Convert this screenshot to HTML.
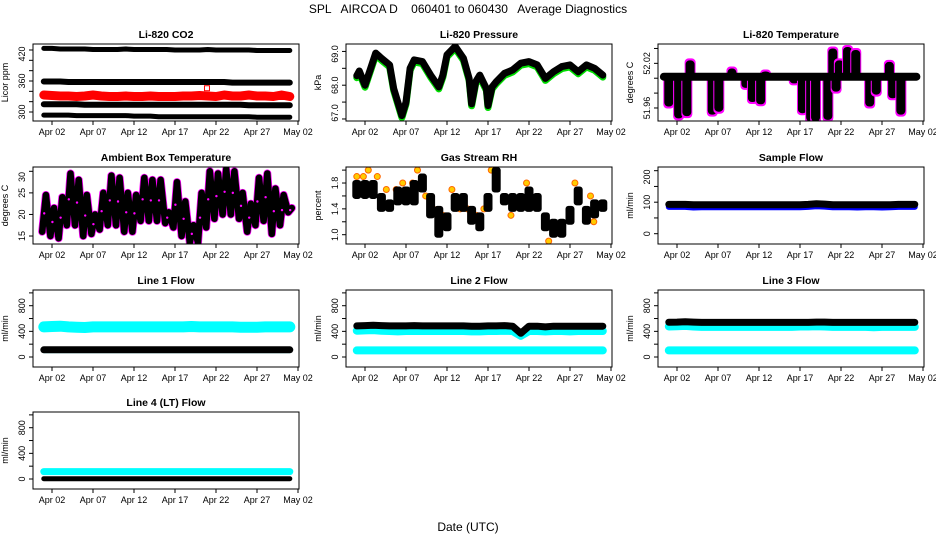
<!DOCTYPE html>
<html><head><meta charset="utf-8"><style>
html,body{margin:0;padding:0;background:#fff;}
svg{display:block;font-family:"Liberation Sans",sans-serif;}
text{white-space:pre;}
</style></head><body>
<svg id="c" width="936" height="540" viewBox="0 0 936 540" xmlns="http://www.w3.org/2000/svg" xml:space="preserve">
<text x="468" y="13" font-size="12" text-anchor="middle">SPL   AIRCOA D    060401 to 060430   Average Diagnostics</text>
<text x="468" y="531" font-size="12" text-anchor="middle">Date (UTC)</text>
</svg>
<script>
// ---- data ----
const days = [1,2,3,4,5,6,7,8,9,10,11,12,13,14,15,16,17,18,19,20,21,22,23,24,25,26,27,28,29,30,31];
const dateTicks = [2,7,12,17,22,27,32];
const dateLabels = ["Apr 02","Apr 07","Apr 12","Apr 17","Apr 22","Apr 27","May 02"];

const co2Top   = [423,423,422,422,422,422,421,421,421,421,422,421,421,421,421,421,420,420,420,420,421,420,420,420,420,420,419,419,419,419,419];
const co2Mid   = [359,359,359,358,358,358,358,358,358,358,358,358,358,358,358,358,358,358,358,358,358,358,358,357,357,357,357,357,357,357,357];
const co2Red   = [333,332,331,331,330,331,333,331,330,330,331,330,330,331,330,330,330,331,331,332,331,330,333,331,331,333,331,331,330,333,330];
const co2Low   = [315,315,315,315,315,314,314,314,314,314,314,314,314,314,314,314,314,314,314,314,314,314,314,314,314,313,313,313,313,313,313];
const co2Bot   = [294,294,294,294,293,293,293,293,293,293,293,292,292,292,291,291,291,291,291,291,291,291,291,291,291,291,290,290,290,290,290];
const co2OutDay = [20.9]; const co2OutVal = [346];

const presDays = [1,1.3,2,2.7,3.3,4,5,5.5,6,6.5,7,7.5,8,9,10,11,11.5,12,13,14,14.7,15,15.5,16,16.8,17,17.5,18,19,20,21,22,23,24,25,26,27,28,29,30,31];
const presVals = [68.28,68.42,68.0,68.5,68.95,68.8,68.6,67.9,67.5,67.1,67.5,68.5,68.75,68.7,68.3,67.95,68.3,68.9,69.15,68.8,68.2,67.45,68.1,68.3,67.9,67.4,67.95,68.1,68.35,68.45,68.65,68.7,68.6,68.2,68.4,68.55,68.6,68.4,68.6,68.5,68.3];

const tempBase = 52.002;
const tempDipDays = [1.0,2.2,3.2,3.6,6.3,7.1,8.7,10.4,11.2,12.2,12.8,16.3,17.3,18.3,18.9,20.4,21.0,21.4,21.8,22.8,23.8,25.5,26.3,27.9,28.3,29.3];
const tempDipVals = [51.962,51.946,51.949,52.024,51.951,51.955,52.013,51.987,51.968,51.965,52.009,51.993,51.953,51.942,51.942,51.944,52.040,51.982,52.024,52.042,52.038,51.962,51.978,52.022,51.973,51.951];

const ambMax = [24.5,21.5,24,29.5,28,24.5,20,25,29,28.5,25,24.5,28.5,28,28,20.5,27.5,23,17.5,25,30,29.5,30.5,30,25,22.5,28.5,29.5,26,24.5,21.5];
const ambMin = [16,15,14.5,17.5,17.5,15,15.5,16.5,17.5,17.5,16,16,18.5,18.5,18.5,18,17,15,13.5,13.5,17,19,20,20,19,16,17.5,18.5,15.5,17.5,20.5];

const rhLow  = [1.6,1.6,1.6,1.4,1.4,1.5,1.5,1.5,1.7,1.3,1.0,1.1,1.4,1.4,1.2,1.1,1.4,1.7,1.5,1.4,1.4,1.4,1.4,1.1,1.0,1.0,1.2,1.5,1.2,1.3,1.4];
const rhHigh = [1.8,1.8,1.8,1.6,1.5,1.7,1.7,1.8,1.9,1.6,1.4,1.3,1.6,1.6,1.4,1.3,1.6,2.0,1.6,1.6,1.6,1.7,1.6,1.3,1.2,1.2,1.4,1.7,1.4,1.5,1.5];
const rhOutDays = [1,1.8,2.4,3.5,4.6,5.8,6.6,7.8,8.4,9.4,10.3,11.5,12.6,13.6,14.5,15.6,16.5,17.4,19.8,21.7,24.4,27.6,29.5,29.9];
const rhOutVals = [1.9,1.9,2.0,1.9,1.7,1.7,1.8,1.8,2.0,1.6,1.4,1.3,1.7,1.4,1.4,1.3,1.4,2.0,1.3,1.8,0.9,1.8,1.6,1.2];

const sampleBlack = [93,93,93,92,92,92,92,92,92,92,92,92,92,92,92,92,92,93,95,94,92,92,92,92,92,92,92,92,93,93,93];
const sampleBlue  = [85,85,85,83,84,84,84,84,84,84,84,84,84,84,84,84,84,85,87,86,84,84,84,83,84,84,83,84,85,85,85];

const l1Cyan  = [470,475,480,470,465,460,470,470,470,470,470,470,470,470,470,470,470,470,475,470,470,470,470,470,465,465,465,470,470,470,470];
const l1Black = [113,113,113,113,113,113,113,113,113,113,113,113,113,113,113,113,113,113,113,113,113,113,113,113,113,113,113,113,113,113,113];
const l1CyanLow = [92,92,92,92,92,92,92,92,92,92,92,92,92,92,92,92,92,92,92,92,92,92,92,92,92,92,92,92,92,92,92];

const l2Black = [485,490,495,490,485,485,485,490,485,485,485,485,485,485,480,480,485,485,490,480,370,480,480,470,480,480,480,480,480,480,480];
const l2Cyan  = [410,415,420,410,405,400,405,405,405,405,405,405,405,405,400,400,405,405,410,405,330,405,405,400,405,405,400,405,405,405,405];
const l2CyanLow = [103,103,103,103,103,103,103,103,103,103,103,103,103,103,103,103,103,103,103,103,103,103,103,103,103,103,103,103,103,103,103];

const l3Black = [542,545,550,545,540,540,540,540,540,540,540,540,540,540,540,540,540,540,545,545,540,540,540,540,540,540,540,540,540,540,540];
const l3Cyan  = [475,480,485,475,470,470,470,470,470,470,470,470,470,470,470,470,475,475,480,475,470,470,470,470,470,465,470,470,470,470,470];
const l3CyanLow = [103,103,103,103,103,103,103,103,103,103,103,103,103,103,103,103,103,103,103,103,103,103,103,103,103,103,103,103,103,103,103];

const l4Cyan  = [115,115,115,115,115,115,115,115,115,115,115,115,115,115,115,115,115,115,115,115,115,115,115,115,115,115,115,115,115,115,115];
const l4Black = [5,5,5,5,5,5,5,5,5,5,5,5,5,5,5,5,5,5,5,5,5,5,5,5,5,5,5,5,5,5,5];

// ---- layout ----
const NS = "http://www.w3.org/2000/svg";
const svg = document.getElementById('c');
const W = 266, H = 77;
const cols = [33, 346, 658], rows = [44, 167, 290, 412];
function mk(tag, attrs, parent){ const e=document.createElementNS(NS,tag); for(const k in attrs) e.setAttribute(k,attrs[k]); (parent||svg).appendChild(e); return e; }

function panel(name, title, ytitle, c, r, ymin, ymax, ticks, labels, fmt){
  const p = {left:cols[c], top:rows[r], ymin, ymax};
  p.x = d => p.left + 19 + (d-2)*8.2;
  p.y = v => p.top + H - (v-ymin)/(ymax-ymin)*H;
  const g = mk('g', {});
  
  
  const cid = 'clip-'+name;
  const cp = mk('clipPath', {id:cid}, g);
  mk('rect', {x:p.left, y:p.top, width:W, height:H}, cp);
  p.plot = mk('g', {'clip-path':'url(#'+cid+')'}, g);
  
  
  const t = mk('text', {x:p.left+W/2, y:p.top-6, 'font-size':10.5, 'font-weight':'bold', 'text-anchor':'middle'}, g);
  t.textContent = title;
  
  
  const xa = mk('g', {}, g);
  
  
  mk('line', {x1:p.left, x2:p.x(32), y1:p.top+H, y2:p.top+H, stroke:'#000'}, xa);
  dateTicks.forEach((d,i)=>{
    mk('line', {x1:p.x(d), x2:p.x(d), y1:p.top+H, y2:p.top+H+4, stroke:'#000'}, xa);
    const tl = mk('text', {x:p.x(d), y:p.top+H+14, 'font-size':9, 'text-anchor':'middle'}, xa);
    tl.textContent = dateLabels[i];
    
    
  });
  const ya = mk('g', {}, g);
  
  
  mk('line', {x1:p.left, x2:p.left, y1:p.y(ticks[0]), y2:p.y(ticks[ticks.length-1]), stroke:'#000'}, ya);
  ticks.forEach(v=>{
    mk('line', {x1:p.left-4, x2:p.left, y1:p.y(v), y2:p.y(v), stroke:'#000'}, ya);
  });
  labels.forEach(v=>{
    const yy = Math.min(Math.max(p.y(v), p.top+10), p.top+H-8);
    const tl = mk('text', {x:p.left-8, y:yy, 'font-size':9, 'text-anchor':'middle', transform:'rotate(-90 '+(p.left-8)+' '+yy+')'}, ya);
    tl.textContent = fmt(v);
    
    
  });
  const yt = mk('text', {x:p.left-25, y:p.top+H/2, 'font-size':9, 'text-anchor':'middle', transform:'rotate(-90 '+(p.left-25)+' '+(p.top+H/2)+')'}, g);
  yt.textContent = ytitle;
  
  
  p.frame = g;
  return p;
}
function box(p){
  const b = mk('rect', {x:p.left, y:p.top, width:W, height:H, fill:'none', stroke:'#000', 'stroke-width':1}, p.frame);
  
  
}
function band(p, xs, vals, color, w, name, dy){
  const pts = xs.map((d,i)=>p.x(d).toFixed(1)+','+(p.y(vals[i])+(dy||0)).toFixed(1)).join(' ');
  const l = mk('polyline', {points:pts, fill:'none', stroke:color, 'stroke-width':w, 'stroke-linejoin':'round', 'stroke-linecap':'round'}, p.plot);
  
  
  return l;
}
const f0 = v=>String(v), f1 = v=>v.toFixed(1), f2 = v=>v.toFixed(2);

let p = panel('co2','Li-820 CO2','Licor ppm',0,0,282.6,431.6,[300,320,340,360,380,400,420],[300,360,420],f0);
band(p, days, co2Top, '#000', 5, 'co2-band-high');
band(p, days, co2Mid, '#000', 6, 'co2-band-mid');
band(p, days, co2Low, '#000', 6, 'co2-band-low');
band(p, days, co2Bot, '#000', 5, 'co2-band-bottom');
band(p, days, co2Red, '#ff0000', 9, 'co2-band-red');
co2OutDay.forEach((d,i)=>{
  const r = mk('rect', {x:p.x(d)-2.5, y:p.y(co2OutVal[i])-2.5, width:5, height:5, fill:'none', stroke:'#ff0000'}, p.plot);
  
  
});
box(p);

p = panel('pressure','Li-820 Pressure','kPa',1,0,66.94,69.22,[67,67.5,68,68.5,69],[67,68,69],f1);
band(p, presDays, presVals, '#00dd00', 7, 'pressure-green-series', 2);
band(p, presDays, presVals, '#000', 7, 'pressure-series');
box(p);

p = panel('temperature','Li-820 Temperature','degrees C',2,0,51.9425,52.046,[51.96,51.98,52.00,52.02,52.04],[51.96,52.02],f2);
tempDipDays.forEach((d,i)=>{
  const v = tempDipVals[i];
  const y1 = Math.min(p.y(v), p.y(tempBase)), y2 = Math.max(p.y(v), p.y(tempBase));
  const m = mk('rect', {x:p.x(d)-5.5, y:y1-2, width:11, height:y2-y1+4, rx:4, fill:'#ff00ff'}, p.plot);
  
  
  const b = mk('rect', {x:p.x(d)-4.5, y:y1, width:9, height:y2-y1, rx:4, fill:'#000'}, p.plot);
  
  
});
band(p, [0.4,31.2], [tempBase,tempBase], '#000', 8, 'temperature-baseline');
box(p);

p = panel('ambient','Ambient Box Temperature','degrees C',0,1,13.15,31.0,[15,20,25,30],[15,20,25,30],f0);
const ambX = [], ambV = [];
days.forEach((d,i)=>{ ambX.push(d-0.2); ambV.push(ambMin[i]); ambX.push(d+0.25); ambV.push(ambMax[i]); });
band(p, ambX, ambV, '#ff00ff', 8, 'ambient-magenta-series');
band(p, ambX, ambV, '#000', 6.5, 'ambient-series');
days.forEach((d,i)=>{
  const c = mk('circle', {cx:p.x(d+0.05), cy:p.y((ambMin[i]+ambMax[i])/2), r:1.2, fill:'#ff00ff'}, p.plot);
  
  
});
box(p);

p = panel('rh','Gas Stream RH','percent',1,1,0.856,2.048,[1.0,1.2,1.4,1.6,1.8,2.0],[1.0,1.4,1.8],f1);
rhOutDays.forEach((d,i)=>{
  const c = mk('circle', {cx:p.x(d), cy:p.y(rhOutVals[i]), r:3, fill:'#ffcc00', stroke:'#ff6600', 'stroke-width':1}, p.plot);
  
  
});
days.forEach((d,i)=>{
  const y1 = p.y(rhHigh[i]), y2 = p.y(rhLow[i]);
  const b = mk('rect', {x:p.x(d)-4.5, y:y1-3, width:9, height:y2-y1+6, rx:3, fill:'#000'}, p.plot);
  
  
});
box(p);

p = panel('sample-flow','Sample Flow','ml/min',2,1,-32.7,211.7,[0,50,100,150,200],[0,100,200],f0);
band(p, days, sampleBlue, '#0000ff', 6, 'sample-flow-blue-series');
band(p, days, sampleBlack, '#000', 7, 'sample-flow-series');
box(p);

const lt = [0,200,400,600,800,1000], ll = [0,400,800];
p = panel('line1','Line 1 Flow','ml/min',0,2,-156,1045,lt,ll,f0);
band(p, days, l1Cyan, '#00ffff', 11, 'line1-cyan-series');
band(p, days, l1CyanLow, '#00ffff', 4, 'line1-cyan-low-series');
band(p, days, l1Black, '#000', 7, 'line1-black-series');
box(p);

p = panel('line2','Line 2 Flow','ml/min',1,2,-156,1045,lt,ll,f0);
band(p, days, l2Cyan, '#00ffff', 8, 'line2-cyan-series');
band(p, days, l2CyanLow, '#00ffff', 8, 'line2-cyan-low-series');
band(p, days, l2Black, '#000', 7, 'line2-black-series');
box(p);

p = panel('line3','Line 3 Flow','ml/min',2,2,-156,1045,lt,ll,f0);
band(p, days, l3Cyan, '#00ffff', 8, 'line3-cyan-series');
band(p, days, l3CyanLow, '#00ffff', 8, 'line3-cyan-low-series');
band(p, days, l3Black, '#000', 7, 'line3-black-series');
box(p);

p = panel('line4','Line 4 (LT) Flow','ml/min',0,3,-156,1045,lt,ll,f0);
band(p, days, l4Cyan, '#00ffff', 7, 'line4-cyan-series');
band(p, days, l4Black, '#000', 5, 'line4-black-series');
box(p);
</script>
</body></html>
